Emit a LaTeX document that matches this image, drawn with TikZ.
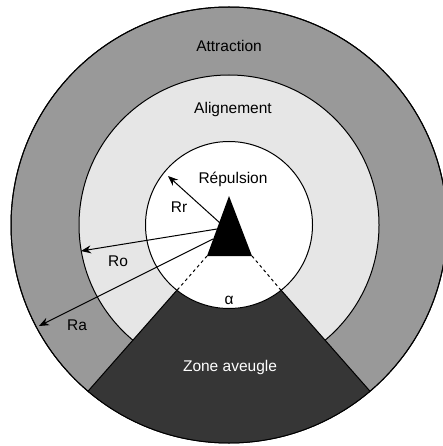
\documentclass[tikz,border=0pt]{standalone}
\usepackage{fontspec}
\setmainfont{Liberation Sans}
\usetikzlibrary{arrows.meta}
\definecolor{attrc}{HTML}{999999}
\definecolor{alignc}{HTML}{E6E6E6}
\definecolor{blindc}{HTML}{363636}
\begin{document}
\begin{tikzpicture}[x=1pt,y=-1pt,
  ring/.style={draw=black,line width=1pt},
  radarrow/.style={draw=black,line width=1pt,-{Stealth[length=10pt,width=8pt]}},
  lbl/.style={font=\fontsize{15.5}{18}\selectfont,text=black,inner sep=0pt},
  dashline/.style={draw=black,line width=1pt,dash pattern=on 3pt off 3pt}]
\useasboundingbox (0,0) rectangle (443,446);
\begin{scope}
\clip (0,0) rectangle (443,446);
% rings
\coordinate (C) at (229,225);
\fill[attrc,ring] (C) circle (218);
\fill[alignc,ring] (C) circle (150);
% blind zone
\coordinate (A) at (229,231);
\begin{scope}
\clip (C) circle (218);
\fill[blindc,ring] (A) -- (-35,531) -- (493,531) -- cycle;
\end{scope}
\draw[ring] (C) circle (218);
\fill[white,ring] (C) circle (83.5);
\end{scope}
% triangle
\coordinate (T1) at (229,196);
\coordinate (T2) at (207,256);
\coordinate (T3) at (252,256);
\fill[black] (T1) -- (T2) -- (T3) -- cycle;
% dashed edges
\coordinate (D1) at (177,290.3);
\coordinate (D2) at (281,290.3);
\draw[dashline] (T2) -- (D1);
\draw[dashline] (T3) -- (D2);
% radius arrows
\coordinate (S1) at (220,223);
\coordinate (E1) at (168,176);
\coordinate (S2) at (217,229);
\coordinate (E2) at (81,251);
\coordinate (S3) at (213,239);
\coordinate (E3) at (39,326);
\draw[radarrow] (S1) -- (E1);
\draw[radarrow] (S2) -- (E2);
\draw[radarrow] (S3) -- (E3);
% labels
\node[lbl] (att) at (229,46) {Attraction};
\node[lbl] (ali) at (233,109) {Alignement};
\node[lbl] (rep) at (233,179) {Répulsion};
\node[lbl] (rr) at (179,207) {Rr};
\node[lbl] (ro) at (118,261) {Ro};
\node[lbl] (ra) at (77,325) {Ra};
\node[lbl] (alpha) at (229,300) {α};
\node[lbl,text=white] (za) at (230,367) {Zone aveugle};
\end{tikzpicture}
\end{document}
